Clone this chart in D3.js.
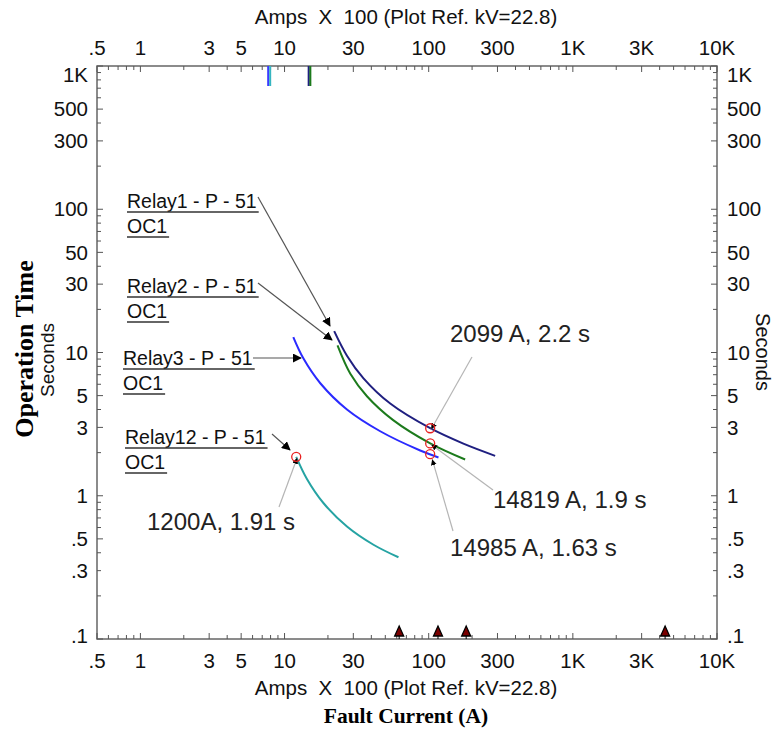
<!DOCTYPE html>
<html>
<head>
<meta charset="utf-8">
<script src="https://cdn.jsdelivr.net/npm/d3@7"></script>
<style>
  body { margin: 0; background: #fff; }
  svg { display: block; font-family: "Liberation Sans", Arial, sans-serif; }
  text { white-space: pre; }
</style>
</head>
<body>
<svg id="chart" width="775" height="731"></svg>
<script>
// curve data, amps x 100 vs seconds
const relay1 = [[22.1,14.1],[27.1,9.5],[35.3,6.6],[54.1,4.4],[102.4,2.96],[174,2.31],[289,1.9]];
const relay2 = [[23.3,11.2],[28.6,7.1],[37.3,4.95],[56.7,3.37],[102.4,2.32],[179,1.79]];
const relay3 = [[11.5,12.8],[13.5,9.1],[17.7,6.1],[27.1,4.0],[46.1,2.82],[87.3,2.07],[116.9,1.85]];
const relay12 = [[12.05,1.87],[14.3,1.31],[18.6,0.89],[27.1,0.61],[41.4,0.455],[61.7,0.372]];
const curveColors = ["#1f1f80", "#1c7a1c", "#2a2aff", "#25a3a3"];

const circlePts = [[102.4,2.96],[102.4,2.32],[102.4,1.95],[12.05,1.87]];
const pickupX = [7.7, 7.95, 14.7, 15.1];
const pickupColors = ["#3a3aff", "#35b5c0", "#1f1f80", "#1c7a1c"];
const faultX = [62.4, 116, 182, 4365];

const xLabels = [[0.5,".5"],[1,"1"],[3,"3"],[5,"5"],[10,"10"],[30,"30"],[100,"100"],[300,"300"],[1000,"1K"],[3000,"3K"],[10000,"10K"]];
const yLabels = [[1000,"1K"],[500,"500"],[300,"300"],[100,"100"],[50,"50"],[30,"30"],[10,"10"],[5,"5"],[3,"3"],[1,"1"],[0.5,".5"],[0.3,".3"],[0.1,".1"]];

const relayNames = ["Relay1 - P - 51", "Relay2 - P - 51", "Relay3 - P - 51", "Relay12 - P - 51"];

const svg = d3.select("#chart");
const pLeft = 97, pRight = 717, pTop = 66, pBottom = 639;

const x = d3.scaleLog().domain([0.5, 10000]).range([pLeft, pRight]);
const y = d3.scaleLog().domain([0.1, 1000]).range([pBottom, pTop]);

// arrow markers
const defs = svg.append("defs");
defs.append("marker").attr("id", "arr")
  .attr("viewBox", "0 0 10 10").attr("refX", 9).attr("refY", 5)
  .attr("markerWidth", 9).attr("markerHeight", 9).attr("markerUnits", "userSpaceOnUse")
  .attr("orient", "auto")
  .append("path").attr("d", "M0,0L10,5L0,10z").attr("fill", "#000");
defs.append("marker").attr("id", "arrSmall")
  .attr("viewBox", "0 0 10 10").attr("refX", 10).attr("refY", 5)
  .attr("markerWidth", 6).attr("markerHeight", 6).attr("markerUnits", "userSpaceOnUse")
  .attr("orient", "auto")
  .append("path").attr("d", "M0,0L10,5L0,10z").attr("fill", "#000");

// minor/major tick values
let xt = [], yt = [];
for (let e = -1; e <= 4; e++) for (let m = 1; m < 10; m++) {
  const v = m * Math.pow(10, e);
  if (v >= 0.5 && v <= 10000) xt.push(v);
  if (v >= 0.1 && v <= 1000) yt.push(v);
}
const xMajor = xLabels.map(d => d[0]);
const yMajor = yLabels.map(d => d[0]);

// frame
svg.append("rect").attr("x", pLeft).attr("y", pTop)
  .attr("width", pRight - pLeft).attr("height", pBottom - pTop)
  .attr("fill", "none").attr("stroke", "#666").attr("stroke-width", 1.5);

const tk = svg.append("g").attr("stroke", "#555").attr("stroke-width", 1);
xt.forEach(v => {
  const len = xMajor.includes(v) ? 6 : 4;
  tk.append("line").attr("x1", x(v)).attr("x2", x(v)).attr("y1", pTop).attr("y2", pTop + len);
  tk.append("line").attr("x1", x(v)).attr("x2", x(v)).attr("y1", pBottom).attr("y2", pBottom - len);
});
yt.forEach(v => {
  const len = yMajor.includes(v) ? 6 : 4;
  tk.append("line").attr("y1", y(v)).attr("y2", y(v)).attr("x1", pLeft).attr("x2", pLeft + len);
  tk.append("line").attr("y1", y(v)).attr("y2", y(v)).attr("x1", pRight).attr("x2", pRight - len);
});

// tick labels
const lab = svg.append("g").attr("font-size", 20.5).attr("fill", "#111");
xLabels.forEach(([v, t]) => {
  lab.append("text").attr("x", x(v)).attr("y", 55).attr("text-anchor", "middle").text(t);
  lab.append("text").attr("x", x(v)).attr("y", 668).attr("text-anchor", "middle").text(t);
});
yLabels.forEach(([v, t]) => {
  const yy = y(v) + (v === 1000 ? 9 : 0) + (v === 0.1 ? -3 : 0);
  lab.append("text").attr("x", 88).attr("y", yy).attr("dy", "0.35em").attr("text-anchor", "end").text(t);
  lab.append("text").attr("x", 727).attr("y", yy).attr("dy", "0.35em").attr("text-anchor", "start").text(t);
});

// axis titles
svg.append("text").attr("x", 406).attr("y", 24).attr("text-anchor", "middle")
  .attr("font-size", 20.5).attr("fill", "#111").text("Amps  X  100 (Plot Ref. kV=22.8)");
svg.append("text").attr("x", 406).attr("y", 695).attr("text-anchor", "middle")
  .attr("font-size", 20.5).attr("fill", "#111").text("Amps  X  100 (Plot Ref. kV=22.8)");
svg.append("text").attr("x", 406).attr("y", 723).attr("text-anchor", "middle")
  .attr("font-family", "Liberation Serif, serif").attr("font-weight", "bold")
  .attr("font-size", 21.5).text("Fault Current (A)");
svg.append("text").attr("transform", "translate(33,349) rotate(-90)").attr("text-anchor", "middle")
  .attr("font-family", "Liberation Serif, serif").attr("font-weight", "bold")
  .attr("font-size", 26).text("Operation Time");
svg.append("text").attr("transform", "translate(54,360) rotate(-90)").attr("text-anchor", "middle")
  .attr("font-size", 19).attr("fill", "#111").text("Seconds");
svg.append("text").attr("transform", "translate(756,352) rotate(90)").attr("text-anchor", "middle")
  .attr("font-size", 20).attr("fill", "#111").text("Seconds");

// pickup markers at top
pickupX.forEach((v, i) => {
  svg.append("line").attr("x1", x(v)).attr("x2", x(v)).attr("y1", pTop).attr("y2", pTop + 20)
    .attr("stroke", pickupColors[i]).attr("stroke-width", 2);
});

// fault markers at bottom
faultX.forEach(v => {
  const cx = x(v);
  svg.append("path")
    .attr("d", `M${cx - 4.5},${pBottom - 3}L${cx + 4.5},${pBottom - 3}L${cx},${pBottom - 13}Z`)
    .attr("fill", "#7a0000").attr("stroke", "#000").attr("stroke-width", 1.3);
  svg.append("line").attr("x1", cx).attr("x2", cx).attr("y1", pBottom - 3).attr("y2", pBottom)
    .attr("stroke", "#000");
});

// curves
const line = d3.line().x(d => x(d[0])).y(d => y(d[1])).curve(d3.curveCatmullRom);
[relay1, relay2, relay3, relay12].forEach((c, i) => {
  svg.append("path").datum(c).attr("d", line)
    .attr("fill", "none").attr("stroke", curveColors[i]).attr("stroke-width", 2);
});

// relay labels with arrows
const relayLab = [[127, 208, 258, 197, 330, 326], [127, 293, 258, 283, 332, 340],
                  [123, 365, 253, 358, 301, 358], [125, 444, 272, 434, 290, 450]];
relayLab.forEach((r, i) => {
  const g = svg.append("g").attr("font-size", 19.5).attr("fill", "#111");
  const t1 = g.append("text").attr("x", r[0]).attr("y", r[1]).text(relayNames[i]);
  const t2 = g.append("text").attr("x", r[0]).attr("y", r[1] + 25).text("OC1");
  const w1 = t1.node().getComputedTextLength(), w2 = t2.node().getComputedTextLength();
  g.append("line").attr("x1", r[0]).attr("x2", r[0] + w1 + 2).attr("y1", r[1] + 4).attr("y2", r[1] + 4)
    .attr("stroke", "#333").attr("stroke-width", 1.4);
  g.append("line").attr("x1", r[0]).attr("x2", r[0] + w2 + 2).attr("y1", r[1] + 29).attr("y2", r[1] + 29)
    .attr("stroke", "#333").attr("stroke-width", 1.4);
  svg.append("line").attr("x1", r[2]).attr("y1", r[3]).attr("x2", r[4]).attr("y2", r[5])
    .attr("stroke", "#555").attr("stroke-width", 1.2).attr("marker-end", "url(#arr)");
});

// point annotations
const ann = [["2099 A, 2.2 s", 450, 342, 472, 357, 0],
             ["14819 A, 1.9 s", 493, 508, 493, 490, 1],
             ["14985 A, 1.63 s", 450, 556, 453, 531, 2],
             ["1200A, 1.91 s", 147, 530, 279, 507, 3]];
ann.forEach(a => {
  const p = circlePts[a[5]];
  svg.append("line").attr("x1", a[3]).attr("y1", a[4]).attr("x2", x(p[0]) + (a[5] === 2 ? 2 : 1)).attr("y2", y(p[1]) + (a[5] === 2 ? 5 : 1))
    .attr("stroke", "#b5b5b5").attr("stroke-width", 1.2).attr("marker-end", "url(#arrSmall)");
  svg.append("text").attr("x", a[1]).attr("y", a[2]).attr("font-size", 24).attr("fill", "#222").text(a[0]);
});

circlePts.forEach(p => {
  svg.append("circle").attr("cx", x(p[0])).attr("cy", y(p[1])).attr("r", 4.5)
    .attr("fill", "none").attr("stroke", "#e82020").attr("stroke-width", 1.3);
});
</script>
</body>
</html>
